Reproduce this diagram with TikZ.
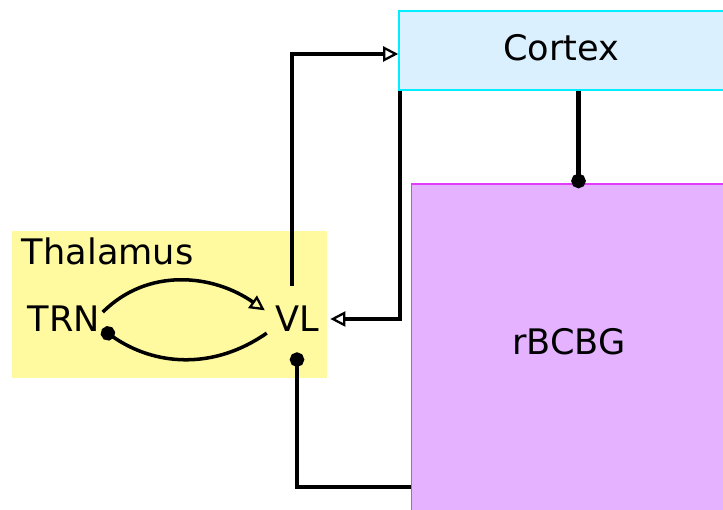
\documentclass[tikz,border=0pt]{standalone}
\usepackage{fontspec}
\setmainfont{DejaVu Sans}
\usetikzlibrary{arrows.meta, calc}
\definecolor{cortexfill}{RGB}{218,240,255}
\definecolor{cortexline}{RGB}{0,238,255}
\definecolor{bgfill}{RGB}{228,178,255}
\definecolor{bgline}{RGB}{225,60,250}
\definecolor{thalfill}{RGB}{255,250,160}
\tikzset{
  region/.style={rectangle, inner sep=0pt, font=\fontsize{20}{24}\selectfont},
  nucleus/.style={circle, inner sep=0pt, font=\fontsize{20}{24}\selectfont},
  openarrow/.style={-{Triangle[open, length=3mm, width=3mm, line width=1.3pt]}, line width=2pt, draw=black},
  dotarrow/.style={-{Circle[length=2.9mm]}, line width=2pt, draw=black}
}

\begin{document}
\begin{tikzpicture}
\useasboundingbox (0,0) rectangle (14.46,10.2);

% regions
\node[region, fill=thalfill, minimum width=6.3cm, minimum height=2.94cm] (thal) at (3.39,4.11) {};
\node[region, anchor=base west] (thallabel) at ([xshift=2mm, yshift=-6.8mm]thal.north west) {Thalamus};
\node[region, draw=cortexline, line width=0.9pt, fill=cortexfill, minimum width=6.5cm, minimum height=1.58cm, text depth=0.14cm] (cortex) at (11.23,9.19) {Cortex};
\node[region, draw=bgline, line width=0.9pt, fill=bgfill, minimum width=6.3cm, minimum height=6.6cm, text depth=0.32cm] (rbcbg) at (11.38,3.22) {rBCBG};

% nuclei
\node[nucleus, minimum size=1.56cm] (trn) at (1.28,3.82) {TRN};
\node[nucleus, minimum size=1.32cm] (vl) at (5.94,3.82) {VL};

\draw[openarrow] (trn.10) to[out=45, in=145] (vl.165);
\draw[dotarrow] (vl.-155) to[out=-145, in=-35] (trn.-15);
\draw[openarrow] ([xshift=-1mm]vl.north) |- ([yshift=-0.7mm]cortex.west);
\draw[openarrow] ([xshift=0.4mm]cortex.south west) |- (vl.east);
\draw[dotarrow, line width=2.6pt] ([xshift=3.4mm]cortex.south) -- ([xshift=3.4mm, yshift=-1mm]cortex.south |- rbcbg.north);
\draw[dotarrow] ([yshift=5.6mm]rbcbg.south west) -| (vl.south);

\end{tikzpicture}
\end{document}
